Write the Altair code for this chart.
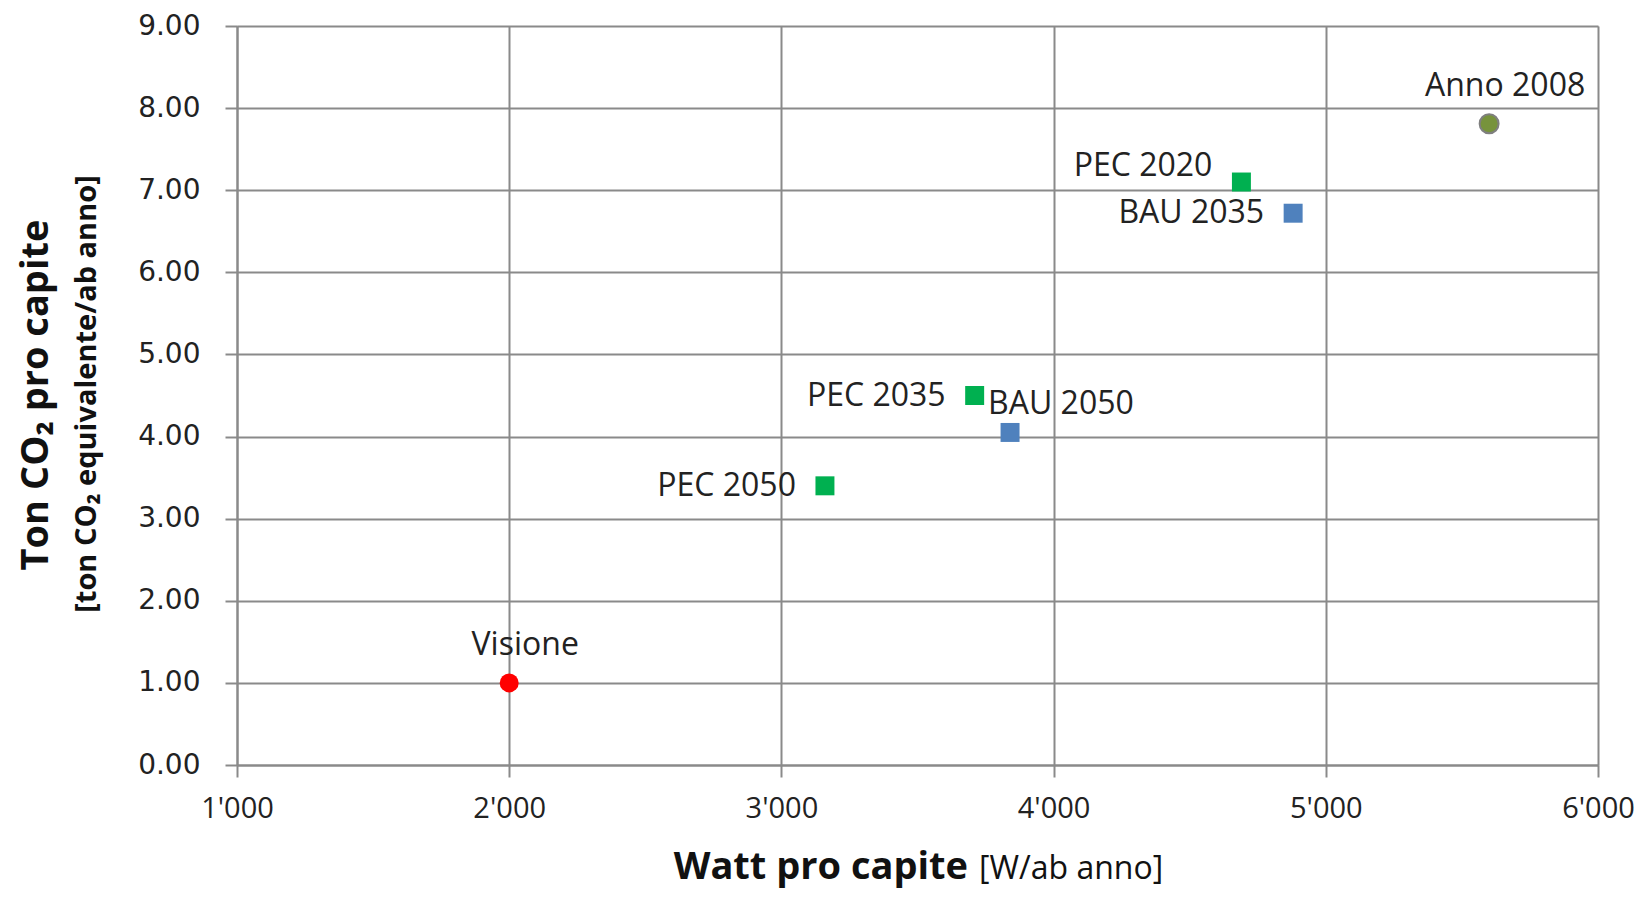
import altair as alt
import pandas as pd

names = ["Anno 2008", "PEC 2020", "BAU 2035", "PEC 2035", "BAU 2050", "PEC 2050", "Visione"]
watts = [5600, 4690, 4880, 3710, 3840, 3160, 2000]
tons = [7.81, 7.10, 6.72, 4.50, 4.05, 3.40, 1.00]
groups = ["Anno", "PEC", "BAU", "PEC", "BAU", "PEC", "Visione"]

group_domain = ["Anno", "PEC", "BAU", "Visione"]
group_colors = ["#77933C", "#00B050", "#4F81BD", "#FF0000"]
group_shapes = ["circle", "square", "square", "circle"]

x_ticks = [1000, 2000, 3000, 4000, 5000, 6000]
y_ticks = [0, 1, 2, 3, 4, 5, 6, 7, 8, 9]

labels_above = ["Anno 2008", "Visione"]
labels_left = ["BAU 2035", "PEC 2035", "PEC 2050"]
labels_upper_left = ["PEC 2020"]
labels_upper_right = ["BAU 2050"]

df = pd.DataFrame({"name": names, "watt": watts, "ton": tons, "group": groups})

GRID = "#8a8a8a"
LABEL_FONT = "Open Sans"

x_enc = alt.X("watt:Q",
              scale=alt.Scale(domain=[1000, 6000], nice=False, zero=False),
              axis=alt.Axis(values=x_ticks, title=None, labelFlush=False,
                            labelExpr="replace(format(datum.value, ','), ',', \"'\")",
                            labelFont=LABEL_FONT, labelFontSize=29, labelColor="#222222",
                            labelPadding=17, tickSize=12, tickColor=GRID, tickWidth=2,
                            domainColor=GRID, domainWidth=2,
                            gridColor=GRID, gridWidth=2, grid=True))
y_enc = alt.Y("ton:Q",
              scale=alt.Scale(domain=[0, 9], nice=False, zero=True),
              axis=alt.Axis(values=y_ticks, title=None, format=".2f", labelFlush=False,
                            labelFont="DejaVu Sans", labelFontSize=28, labelColor="#222222",
                            labelPadding=25, tickSize=12, tickColor=GRID, tickWidth=2,
                            domainColor=GRID, domainWidth=2,
                            gridColor=GRID, gridWidth=2, grid=True))

base = alt.Chart(df).encode(x=x_enc, y=y_enc)

points = base.mark_point(filled=True, size=360, opacity=1).encode(
    color=alt.Color("group:N", scale=alt.Scale(domain=group_domain, range=group_colors), legend=None),
    shape=alt.Shape("group:N", scale=alt.Scale(domain=group_domain, range=group_shapes), legend=None),
    stroke=alt.condition(alt.datum.group == "Anno", alt.value("#7f7f7f"), alt.value(None)),
    strokeWidth=alt.value(2),
)

def lbl(names_list, **kw):
    return base.mark_text(font=LABEL_FONT, fontSize=32, color="#222222", **kw).encode(
        text="name:N"
    ).transform_filter(alt.FieldOneOfPredicate(field="name", oneOf=names_list))

t_above = lbl(labels_above, align="center", baseline="middle", dx=16, dy=-38)
t_left = lbl(labels_left, align="right", baseline="middle", dx=-29, dy=0)
t_ul = lbl(labels_upper_left, align="right", baseline="middle", dx=-29, dy=-16)
t_ur = lbl(labels_upper_right, align="left", baseline="middle", dx=-22, dy=-28)

title_df = pd.DataFrame({"t": [0]})
tb = alt.Chart(title_df)
x_title1 = tb.mark_text(text="Watt pro capite", font=LABEL_FONT, fontSize=38, fontWeight="bold",
                        align="right", baseline="alphabetic", color="#111111").encode(
    x=alt.value(731), y=alt.value(853))
x_title2 = tb.mark_text(text="[W/ab anno]", font=LABEL_FONT, fontSize=32, fontWeight="normal",
                        align="left", baseline="alphabetic", color="#111111").encode(
    x=alt.value(742), y=alt.value(853))
y_title1 = tb.mark_text(text="Ton CO\u2082 pro capite", font=LABEL_FONT, fontSize=38, fontWeight="bold",
                        align="center", baseline="middle", angle=270, color="#111111").encode(
    x=alt.value(-200), y=alt.value(369))
y_title2 = tb.mark_text(text="[ton CO\u2082 equivalente/ab anno]", font=LABEL_FONT, fontSize=29,
                        fontWeight="bold", align="center", baseline="middle", angle=270,
                        color="#111111").encode(
    x=alt.value(-150), y=alt.value(368))

chart = alt.layer(points, t_above, t_left, t_ul, t_ur,
                  x_title1, x_title2, y_title1, y_title2).properties(
    width=1361, height=739,
    autosize=alt.AutoSizeParams(type="none"),
    padding={"left": 229, "top": 18, "right": 43, "bottom": 128},
).configure_view(stroke=None).configure(background="white")

chart.save("out.html", embed_options={"renderer": "svg", "actions": False})
